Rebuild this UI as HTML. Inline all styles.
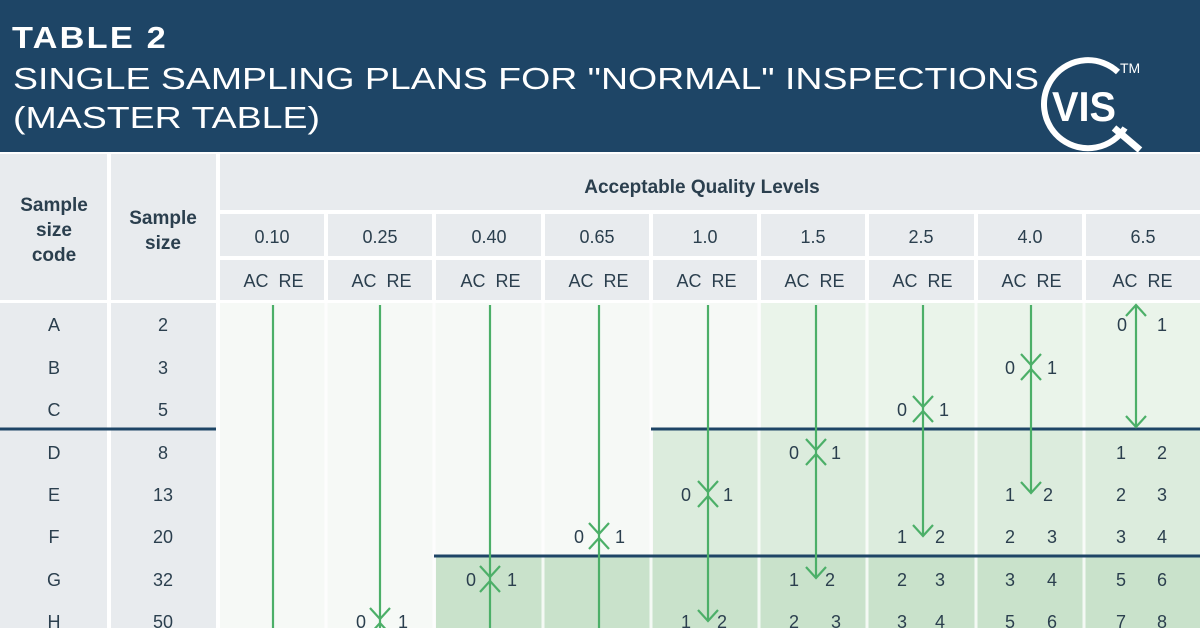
<!DOCTYPE html>
<html><head><meta charset="utf-8"><style>
html,body{margin:0;padding:0;background:#fff;}
svg{display:block;}
text{font-family:"Liberation Sans",sans-serif;}
</style></head><body>
<svg width="1200" height="628" viewBox="0 0 1200 628" xmlns="http://www.w3.org/2000/svg">
<rect x="0" y="0" width="1200" height="628" fill="#ffffff"/>
<rect x="0" y="0" width="1200" height="152" fill="#1e4566"/>
<text x="12" y="48" fill="#fff" font-size="31" font-weight="bold" letter-spacing="2" textLength="156" lengthAdjust="spacingAndGlyphs">TABLE 2</text>
<text x="13" y="89" fill="#fff" font-size="31" textLength="1026" lengthAdjust="spacingAndGlyphs" transform="scale(1,1)">SINGLE SAMPLING PLANS FOR "NORMAL" INSPECTIONS</text>
<text x="13" y="128" fill="#fff" font-size="31" textLength="307" lengthAdjust="spacingAndGlyphs">(MASTER TABLE)</text>
<!-- logo -->
<path d="M1118 72 A44 44 0 1 0 1125 128" fill="none" stroke="#fff" stroke-width="6"/>
<text x="1084" y="121" fill="#fff" font-size="42" font-weight="bold" text-anchor="middle" textLength="64" lengthAdjust="spacingAndGlyphs">VIS</text>
<line x1="1114" y1="128" x2="1140" y2="150" stroke="#fff" stroke-width="7"/>
<text x="1120" y="73" fill="#fff" font-size="14">TM</text>

<g fill="#e8ebee">
<rect x="0" y="154" width="107" height="146"/>
<rect x="111" y="154" width="105" height="146"/>
<rect x="220" y="154" width="980" height="56"/>
</g>
<g fill="#e8ebee">
<rect x="220" y="214" width="104" height="42"/><rect x="328" y="214" width="104" height="42"/><rect x="436" y="214" width="105" height="42"/><rect x="545" y="214" width="104" height="42"/><rect x="653" y="214" width="104" height="42"/><rect x="761" y="214" width="104" height="42"/><rect x="869" y="214" width="105" height="42"/><rect x="978" y="214" width="104" height="42"/><rect x="1086" y="214" width="114" height="42"/>
<rect x="220" y="260" width="104" height="40"/><rect x="328" y="260" width="104" height="40"/><rect x="436" y="260" width="105" height="40"/><rect x="545" y="260" width="104" height="40"/><rect x="653" y="260" width="104" height="40"/><rect x="761" y="260" width="104" height="40"/><rect x="869" y="260" width="105" height="40"/><rect x="978" y="260" width="104" height="40"/><rect x="1086" y="260" width="114" height="40"/>
<rect x="0" y="303" width="107" height="325"/><rect x="111" y="303" width="105" height="325"/>
</g>
<g fill="#2b3f4e" font-size="19" text-anchor="middle">
<text x="54" y="211" font-weight="bold">Sample</text>
<text x="54" y="236" font-weight="bold">size</text>
<text x="54" y="261" font-weight="bold">code</text>
<text x="163" y="224" font-weight="bold">Sample</text>
<text x="163" y="249" font-weight="bold">size</text>
<text x="702" y="193" font-weight="bold">Acceptable Quality Levels</text>
</g>
<g fill="#2b3f4e" font-size="18" text-anchor="middle">
<text x="272" y="243">0.10</text><text x="380" y="243">0.25</text><text x="489" y="243">0.40</text><text x="597" y="243">0.65</text><text x="705" y="243">1.0</text><text x="813" y="243">1.5</text><text x="921" y="243">2.5</text><text x="1030" y="243">4.0</text><text x="1143" y="243">6.5</text>
</g>
<g fill="#2b3f4e" font-size="18" text-anchor="middle">
<text x="256" y="287">AC</text><text x="291" y="287">RE</text>
<text x="364" y="287">AC</text><text x="399" y="287">RE</text>
<text x="473" y="287">AC</text><text x="508" y="287">RE</text>
<text x="581" y="287">AC</text><text x="616" y="287">RE</text>
<text x="689" y="287">AC</text><text x="724" y="287">RE</text>
<text x="797" y="287">AC</text><text x="832" y="287">RE</text>
<text x="905" y="287">AC</text><text x="940" y="287">RE</text>
<text x="1014" y="287">AC</text><text x="1049" y="287">RE</text>
<text x="1125" y="287">AC</text><text x="1160" y="287">RE</text>
</g>
<rect x="220" y="303" width="980" height="325" fill="#f6f9f6"/>
<rect x="761" y="303" width="439" height="127" fill="#eaf4ea"/>
<rect x="653" y="430" width="547" height="127" fill="#dcecdd"/>
<rect x="436" y="557" width="764" height="71" fill="#c9e2cb"/>
<g stroke="#ffffff" stroke-width="3" opacity="0.8">
<line x1="326" y1="303" x2="326" y2="628"/><line x1="434" y1="303" x2="434" y2="628"/><line x1="543" y1="303" x2="543" y2="628"/><line x1="651" y1="303" x2="651" y2="628"/><line x1="759" y1="303" x2="759" y2="628"/><line x1="867" y1="303" x2="867" y2="628"/><line x1="976" y1="303" x2="976" y2="628"/><line x1="1084" y1="303" x2="1084" y2="628"/>
</g>
<g stroke="#1e4566" stroke-width="3">
<line x1="0" y1="429" x2="216" y2="429"/><line x1="651" y1="429" x2="1200" y2="429"/>
<line x1="434" y1="556" x2="1200" y2="556"/>
</g>
<g fill="#2b3f4e" font-size="18" text-anchor="middle">
<text x="54" y="331">A</text><text x="163" y="331">2</text>
<text x="54" y="374">B</text><text x="163" y="374">3</text>
<text x="54" y="416">C</text><text x="163" y="416">5</text>
<text x="54" y="459">D</text><text x="163" y="459">8</text>
<text x="54" y="501">E</text><text x="163" y="501">13</text>
<text x="54" y="543">F</text><text x="163" y="543">20</text>
<text x="54" y="586">G</text><text x="163" y="586">32</text>
<text x="54" y="628">H</text><text x="163" y="628">50</text>
</g>
<g stroke="#4caf68" stroke-width="2.2" fill="none">
<line x1="273" y1="305" x2="273" y2="628"/>
<line x1="380" y1="305" x2="380" y2="628"/>
<line x1="490" y1="305" x2="490" y2="628"/>
<line x1="599" y1="305" x2="599" y2="628"/>
<line x1="708" y1="305" x2="708" y2="620"/>
<line x1="816" y1="305" x2="816" y2="578"/>
<line x1="923" y1="305" x2="923" y2="536"/>
<line x1="1031" y1="305" x2="1031" y2="493"/>
<line x1="1136" y1="306" x2="1136" y2="426"/>
<path d="M370 608 L380 619 L390 608 M370 634 L380 623 L390 634"/>
<path d="M480 566 L490 577 L500 566 M480 592 L490 581 L500 592"/>
<path d="M589 523 L599 534 L609 523 M589 549 L599 538 L609 549"/>
<path d="M698 481 L708 492 L718 481 M698 507 L708 496 L718 507"/>
<path d="M806 439 L816 450 L826 439 M806 465 L816 454 L826 465"/>
<path d="M913 396 L923 407 L933 396 M913 422 L923 411 L933 422"/>
<path d="M1021 354 L1031 365 L1041 354 M1021 380 L1031 369 L1041 380"/>
<path d="M698 610 L708 621 L718 610"/>
<path d="M806 567 L816 578 L826 567"/>
<path d="M913 525 L923 536 L933 525"/>
<path d="M1021 482 L1031 493 L1041 482"/>
<path d="M1126 416 L1136 427 L1146 416"/>
<path d="M1126 316 L1136 305 L1146 316"/>
</g>
<g fill="#2b3f4e" font-size="18" text-anchor="middle">
<text x="361" y="628">0</text><text x="403" y="628">1</text>
<text x="471" y="586">0</text><text x="512" y="586">1</text>
<text x="579" y="543">0</text><text x="620" y="543">1</text>
<text x="686" y="501">0</text><text x="728" y="501">1</text>
<text x="794" y="459">0</text><text x="836" y="459">1</text>
<text x="902" y="416">0</text><text x="944" y="416">1</text>
<text x="1010" y="374">0</text><text x="1052" y="374">1</text>
<text x="1122" y="331">0</text><text x="1162" y="331">1</text>
<text x="686" y="628">1</text><text x="722" y="628">2</text>
<text x="794" y="586">1</text><text x="830" y="586">2</text>
<text x="902" y="543">1</text><text x="940" y="543">2</text>
<text x="1010" y="501">1</text><text x="1048" y="501">2</text>
<text x="794" y="628">2</text><text x="836" y="628">3</text>
<text x="902" y="586">2</text><text x="940" y="586">3</text>
<text x="902" y="628">3</text><text x="940" y="628">4</text>
<text x="1010" y="543">2</text><text x="1052" y="543">3</text>
<text x="1010" y="586">3</text><text x="1052" y="586">4</text>
<text x="1010" y="628">5</text><text x="1052" y="628">6</text>
<text x="1121" y="459">1</text><text x="1162" y="459">2</text>
<text x="1121" y="501">2</text><text x="1162" y="501">3</text>
<text x="1121" y="543">3</text><text x="1162" y="543">4</text>
<text x="1121" y="586">5</text><text x="1162" y="586">6</text>
<text x="1121" y="628">7</text><text x="1162" y="628">8</text>
</g>
</svg>
</body></html>
